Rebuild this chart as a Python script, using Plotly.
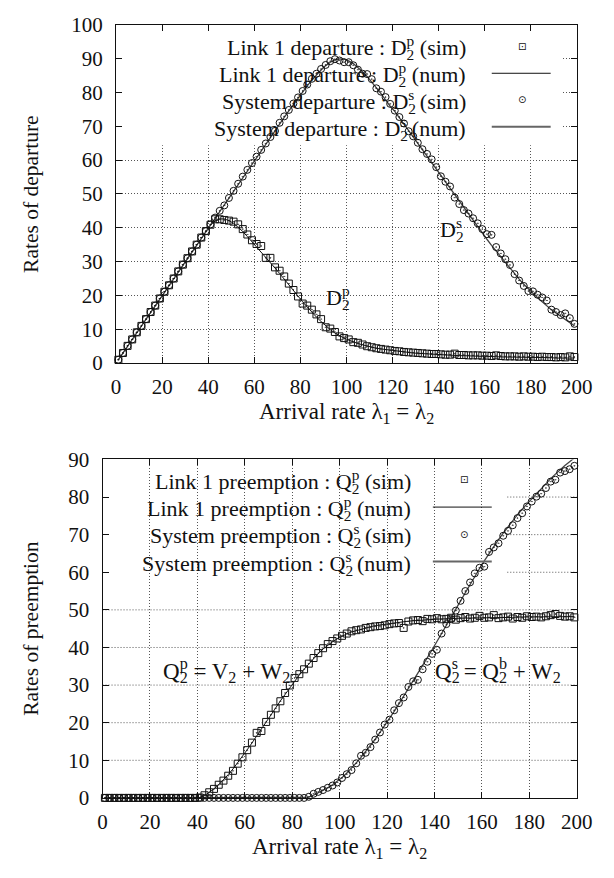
import plotly.graph_objects as go

# Arrival rate lambda_1 = lambda_2 at which both the simulation and the numerical model were evaluated
lam = [1, 3, 5, 7, 9, 11, 13, 15, 17, 19,
       21, 23, 25, 27, 29, 31, 33, 35, 37, 39,
       41, 43, 45, 47, 49, 51, 53, 55, 57, 59,
       61, 63, 65, 67, 69, 71, 73, 75, 77, 79,
       81, 83, 85, 87, 89, 91, 93, 95, 97, 99,
       101, 103, 105, 107, 109, 111, 113, 115, 117, 119,
       121, 123, 125, 127, 129, 131, 133, 135, 137, 139,
       141, 143, 145, 147, 149, 151, 153, 155, 157, 159,
       161, 163, 165, 167, 169, 171, 173, 175, 177, 179,
       181, 183, 185, 187, 189, 191, 193, 195, 197, 199]

# Link 1 departure rate D2^p
dp_sim = [1.0, 3.0, 5.1, 7.0, 9.1, 11.0, 13.0, 15.1, 17.0, 19.1,
          21.1, 23.0, 25.0, 27.1, 29.1, 31.0, 33.0, 35.0, 37.1, 39.0,
          40.9, 42.5, 42.5, 42.3, 42.1, 41.8, 41.0, 39.6, 38.0, 36.3,
          35.2, 34.6, 31.1, 31.1, 28.3, 27.3, 25.6, 23.5, 21.6, 19.7,
          17.6, 17.0, 15.8, 14.4, 13.0, 10.6, 10.2, 9.2, 7.9, 7.4,
          7.0, 6.2, 6.0, 5.5, 5.0, 4.7, 4.4, 4.2, 4.0, 3.8,
          3.6, 3.5, 3.3, 3.2, 3.1, 3.0, 2.9, 2.8, 2.7, 2.7,
          2.6, 2.5, 2.5, 2.8, 2.4, 2.4, 2.3, 2.3, 2.3, 2.2,
          2.2, 2.1, 2.3, 2.1, 2.0, 2.0, 2.0, 1.9, 2.0, 1.9,
          1.9, 1.8, 1.9, 1.8, 1.8, 1.7, 1.8, 1.7, 2.0, 1.8]
dp_num = [1.0, 3.0, 5.0, 7.0, 9.0, 11.0, 13.0, 15.0, 17.0, 19.0,
          21.0, 23.0, 25.0, 27.0, 29.0, 31.0, 33.0, 35.0, 37.0, 39.0,
          40.8, 42.0, 42.6, 42.6, 42.1, 41.3, 40.2, 38.9, 37.4, 35.9,
          34.4, 32.9, 31.3, 29.7, 28.1, 26.5, 24.9, 23.2, 21.5, 19.8,
          18.1, 16.5, 15.0, 13.6, 12.3, 11.0, 9.9, 8.9, 8.1, 7.4,
          6.8, 6.2, 5.8, 5.4, 5.0, 4.7, 4.4, 4.2, 4.0, 3.8,
          3.6, 3.4, 3.3, 3.1, 3.0, 2.9, 2.8, 2.7, 2.6, 2.5,
          2.5, 2.4, 2.3, 2.3, 2.2, 2.2, 2.1, 2.1, 2.0, 2.0,
          2.0, 1.9, 1.9, 1.9, 1.8, 1.8, 1.8, 1.7, 1.7, 1.7,
          1.7, 1.6, 1.6, 1.6, 1.6, 1.5, 1.5, 1.5, 1.5, 1.5]

# System departure rate D2^s
ds_sim = [1.0, 3.0, 5.1, 7.0, 9.1, 11.0, 13.0, 15.1, 17.0, 19.1,
          21.1, 23.0, 25.0, 27.1, 29.1, 31.0, 33.0, 35.0, 37.1, 39.0,
          41.0, 43.0, 45.0, 46.6, 48.8, 50.9, 53.0, 55.1, 57.1, 59.1,
          61.0, 63.0, 64.9, 66.8, 68.6, 71.0, 72.9, 74.8, 76.7, 78.5,
          80.4, 82.3, 84.0, 85.5, 86.9, 88.1, 89.2, 89.8, 89.4, 88.9,
          88.9, 88.0, 86.7, 85.5, 85.4, 83.9, 81.2, 80.2, 78.6, 76.6,
          74.6, 72.7, 70.8, 68.5, 67.0, 65.1, 63.2, 61.8, 60.2, 57.9,
          55.2, 53.6, 52.2, 48.9, 47.0, 45.2, 44.2, 42.8, 41.3, 39.6,
          38.1, 37.9, 34.3, 32.4, 30.7, 29.0, 26.3, 24.4, 22.8, 21.3,
          21.2, 20.2, 19.4, 18.5, 15.8, 15.1, 14.2, 14.7, 13.3, 11.6]
ds_num = [1.0, 3.0, 5.0, 7.0, 9.0, 11.0, 13.0, 15.0, 17.0, 19.0,
          21.0, 23.0, 25.0, 27.0, 29.0, 31.0, 33.0, 35.0, 37.0, 39.0,
          41.0, 43.0, 45.0, 47.0, 49.0, 51.0, 53.0, 55.0, 57.0, 59.0,
          61.0, 62.9, 64.8, 66.7, 68.7, 70.7, 72.6, 74.5, 76.4, 78.3,
          80.1, 81.9, 83.6, 85.2, 86.6, 87.9, 88.9, 89.6, 89.9, 89.8,
          89.3, 88.5, 87.4, 86.1, 84.7, 83.1, 81.4, 79.6, 77.8, 75.9,
          74.4, 72.5, 70.6, 68.6, 66.7, 64.8, 62.9, 61.0, 59.2, 57.3,
          55.4, 53.5, 51.6, 49.7, 47.7, 45.8, 43.9, 42.0, 40.2, 38.4,
          36.6, 34.8, 33.1, 31.4, 29.7, 28.0, 26.4, 24.8, 23.3, 21.9,
          20.6, 19.3, 18.1, 16.9, 15.8, 14.8, 13.8, 12.8, 11.9, 11.0]

# Link 1 preemption rate Q2^p
qp_sim = [0.0, 0.0, 0.0, 0.0, 0.0, 0.0, 0.0, 0.0, 0.0, 0.0,
          0.0, 0.0, 0.0, 0.0, 0.0, 0.0, 0.0, 0.0, 0.0, 0.0,
          0.1, 0.7, 1.5, 2.4, 3.5, 4.6, 5.9, 7.2, 9.1, 10.8,
          12.7, 14.7, 17.3, 17.8, 20.2, 22.1, 23.8, 25.7, 27.9, 29.9,
          31.9, 32.9, 34.2, 35.7, 37.2, 38.5, 39.8, 40.9, 41.7, 42.4,
          43.1, 43.7, 44.3, 44.6, 44.8, 45.2, 45.4, 45.6, 45.7, 45.9,
          46.2, 46.4, 46.5, 45.2, 46.9, 47.2, 47.3, 47.0, 47.6, 47.5,
          47.8, 47.5, 47.6, 47.9, 47.4, 47.8, 48.1, 47.7, 47.9, 48.4,
          47.9, 48.0, 48.6, 47.8, 48.0, 48.2, 47.7, 48.1, 47.9, 48.3,
          48.1, 48.2, 48.0, 48.3, 48.6, 48.9, 48.4, 48.2, 48.3, 48.0]
qp_num = [0.0, 0.0, 0.0, 0.0, 0.0, 0.0, 0.0, 0.0, 0.0, 0.0,
          0.0, 0.0, 0.0, 0.0, 0.0, 0.0, 0.0, 0.0, 0.0, 0.0,
          0.1, 0.6, 1.4, 2.4, 3.5, 4.8, 6.2, 7.7, 9.3, 11.0,
          12.8, 14.6, 16.4, 18.3, 20.1, 22.0, 23.9, 25.8, 27.6, 29.4,
          31.1, 32.7, 34.2, 35.7, 37.1, 38.4, 39.6, 40.6, 41.5, 42.3,
          43.0, 43.6, 44.1, 44.5, 44.9, 45.2, 45.5, 45.8, 46.0, 46.2,
          46.4, 46.6, 46.8, 46.9, 47.0, 47.1, 47.2, 47.3, 47.4, 47.5,
          47.5, 47.6, 47.6, 47.7, 47.7, 47.8, 47.8, 47.8, 47.9, 47.9,
          47.9, 47.9, 48.0, 48.0, 48.0, 48.0, 48.0, 48.1, 48.1, 48.1,
          48.1, 48.1, 48.1, 48.1, 48.1, 48.1, 48.1, 48.2, 48.2, 48.2]

# System preemption rate Q2^s
qs_sim = [0.0, 0.0, 0.0, 0.0, 0.0, 0.0, 0.0, 0.0, 0.0, 0.0,
          0.0, 0.0, 0.0, 0.0, 0.0, 0.0, 0.0, 0.0, 0.0, 0.0,
          0.0, 0.0, 0.0, 0.0, 0.0, 0.0, 0.0, 0.0, 0.0, 0.0,
          0.0, 0.0, 0.0, 0.0, 0.0, 0.0, 0.0, 0.0, 0.0, 0.0,
          0.0, 0.0, 0.0, 0.3, 1.1, 1.6, 2.1, 2.7, 3.3, 4.1,
          5.3, 6.3, 7.4, 9.2, 11.2, 12.0, 13.5, 15.5, 17.4, 19.5,
          20.8, 23.3, 25.2, 26.7, 29.5, 31.0, 31.4, 34.2, 36.2, 38.3,
          39.4, 43.7, 46.2, 47.5, 49.8, 52.4, 55.0, 57.3, 59.7, 61.2,
          61.5, 65.4, 66.6, 67.7, 69.7, 71.0, 72.5, 74.4, 75.7, 77.5,
          78.8, 80.1, 80.9, 82.4, 84.1, 84.6, 86.5, 86.9, 87.4, 88.3]
qs_num = [0.0, 0.0, 0.0, 0.0, 0.0, 0.0, 0.0, 0.0, 0.0, 0.0,
          0.0, 0.0, 0.0, 0.0, 0.0, 0.0, 0.0, 0.0, 0.0, 0.0,
          0.0, 0.0, 0.0, 0.0, 0.0, 0.0, 0.0, 0.0, 0.0, 0.0,
          0.0, 0.0, 0.0, 0.0, 0.0, 0.0, 0.0, 0.0, 0.0, 0.0,
          0.0, 0.0, 0.0, 0.2, 0.7, 1.3, 2.0, 2.7, 3.5, 4.4,
          5.4, 6.6, 7.9, 9.3, 10.8, 12.3, 13.9, 15.6, 17.4, 19.2,
          21.1, 23.0, 25.0, 27.0, 29.0, 31.0, 33.1, 35.2, 37.3, 39.4,
          41.5, 43.6, 45.8, 48.0, 50.2, 52.4, 54.6, 56.8, 58.9, 61.0,
          63.0, 65.0, 66.9, 68.7, 70.4, 72.1, 73.7, 75.3, 76.8, 78.2,
          79.6, 81.0, 82.3, 83.6, 84.9, 86.1, 87.3, 88.4, 89.4, 90.4]

x_ticks = [0, 20, 40, 60, 80, 100, 120, 140, 160, 180, 200]
top_y_ticks = [0, 10, 20, 30, 40, 50, 60, 70, 80, 90, 100]
bot_y_ticks = [0, 10, 20, 30, 40, 50, 60, 70, 80, 90]

W, H = 614, 878
FONT = "Liberation Serif"
FS = 22        # key text and curve labels
FS_TICK = 21   # tick numbers
FS_TITLE = 23  # axis titles
INK = "#111111"
GRID = "#555555"
GRID_DASH = "1px,2px"


def sub_sup(base, sub, sup):
    # subscript and superscript stacked over the same position
    return (f"{base}<sub><span style='letter-spacing:-0.5em'>{sub}</span></sub>"
            f"<sup>{sup}</sup>")


D2p = sub_sup("D", "2", "p")
D2s = sub_sup("D", "2", "s")
Q2p = sub_sup("Q", "2", "p")
Q2s = sub_sup("Q", "2", "s")
Q2b = sub_sup("Q", "2", "b")

fig = go.Figure()

mk_sq = dict(symbol="square-open-dot", size=7, color=INK, line=dict(width=1, color=INK))
mk_ci = dict(symbol="circle-open-dot", size=7, color=INK, line=dict(width=1, color=INK))

# upper panel: departures
fig.add_trace(go.Scatter(x=lam, y=dp_num, mode="lines", line=dict(color=INK, width=1),
                         xaxis="x", yaxis="y", showlegend=False))
fig.add_trace(go.Scatter(x=lam, y=ds_num, mode="lines", line=dict(color="#444444", width=1.3),
                         xaxis="x", yaxis="y", showlegend=False))
fig.add_trace(go.Scatter(x=lam, y=dp_sim, mode="markers", marker=mk_sq, cliponaxis=False,
                         xaxis="x", yaxis="y", showlegend=False))
fig.add_trace(go.Scatter(x=lam, y=ds_sim, mode="markers", marker=mk_ci, cliponaxis=False,
                         xaxis="x", yaxis="y", showlegend=False))

# lower panel: preemptions
fig.add_trace(go.Scatter(x=lam, y=qp_num, mode="lines", line=dict(color=INK, width=1),
                         xaxis="x2", yaxis="y2", showlegend=False))
fig.add_trace(go.Scatter(x=lam, y=qs_num, mode="lines", line=dict(color="#444444", width=1.3),
                         xaxis="x2", yaxis="y2", showlegend=False))
fig.add_trace(go.Scatter(x=lam, y=qp_sim, mode="markers", marker=mk_sq, cliponaxis=False,
                         xaxis="x2", yaxis="y2", showlegend=False))
fig.add_trace(go.Scatter(x=lam, y=qs_sim, mode="markers", marker=mk_ci, cliponaxis=False,
                         xaxis="x2", yaxis="y2", showlegend=False))

# panel geometry in pixels (left, right, top, bottom)
TOP = (115, 592, 13, 361)
BOT = (101, 592, 460, 808)


def dom_x(p):
    return [p[0] / W, p[1] / W]


def dom_y(p):
    return [(H - p[3]) / H, (H - p[2]) / H]


axis_common = dict(
    showline=True, linecolor=INK, linewidth=1, mirror="ticks",
    ticks="inside", ticklen=6, tickwidth=1, tickcolor=INK,
    tickfont=dict(family=FONT, size=FS_TICK, color=INK),
    gridcolor=GRID, gridwidth=1, griddash=GRID_DASH, zeroline=False,
)

fig.update_layout(
    width=W, height=H, margin=dict(l=0, r=0, t=0, b=0),
    paper_bgcolor="white", plot_bgcolor="white",
    font=dict(family=FONT, size=FS, color=INK),
    xaxis=dict(domain=dom_x(TOP), range=[0, 200], tickvals=x_ticks, anchor="y",
               showgrid=True, ticklabelstandoff=5, **axis_common),
    yaxis=dict(domain=dom_y(TOP), range=[0, 100], tickvals=top_y_ticks, anchor="x",
               showgrid=True, ticklabelstandoff=8, **axis_common),
    xaxis2=dict(domain=dom_x(BOT), range=[0, 200], tickvals=x_ticks, anchor="y2",
                showgrid=True, ticklabelstandoff=5, **axis_common),
    yaxis2=dict(domain=dom_y(BOT), range=[0, 90], tickvals=bot_y_ticks, anchor="x2",
                showgrid=False, ticklabelstandoff=8, **axis_common),
)

shapes = []
# key area of the upper panel hides the grid behind it
shapes.append(dict(type="rect", xref="x", yref="y", x0=0, x1=194, y0=64.4, y1=100,
                   fillcolor="white", line=dict(width=0), layer="between"))
# horizontal grid of the lower panel (shortened next to the key)
for v in bot_y_ticks[1:-1]:
    x0 = 170.7 if v >= 60 else 0
    shapes.append(dict(type="line", xref="x2", yref="y2", x0=x0, x1=200, y0=v, y1=v,
                       line=dict(color=GRID, width=1, dash=GRID_DASH), layer="below"))

annotations = []


def px_x(v):
    return v / W


def px_y(v):
    return (H - v) / H


def key(rows, text_right, mark_x, line_x0, line_x1):
    for label, kind, ypix in rows:
        annotations.append(dict(xref="paper", yref="paper", x=px_x(text_right), y=px_y(ypix),
                                xanchor="right", yanchor="middle", showarrow=False,
                                text=label, font=dict(family=FONT, size=FS, color=INK)))
        if kind in ("sq", "ci"):
            glyph = "\u22a1" if kind == "sq" else "\u2299"
            annotations.append(dict(xref="paper", yref="paper", x=px_x(mark_x), y=px_y(ypix),
                                    xanchor="center", yanchor="middle", showarrow=False,
                                    text=glyph, font=dict(family="DejaVu Sans", size=10, color=INK)))
        else:
            col, wid = (INK, 1) if kind == "ln" else ("#666666", 2)
            shapes.append(dict(type="line", xref="paper", yref="paper",
                               x0=px_x(line_x0), x1=px_x(line_x1), y0=px_y(ypix), y1=px_y(ypix),
                               line=dict(color=col, width=wid)))


key([(f"Link 1 departure : {D2p} (sim)", "sq", 35),
     (f"Link 1 departure : {D2p} (num)", "ln", 63),
     (f"System departure : {D2s} (sim)", "ci", 90),
     (f"System departure : {D2s} (num)", "ln2", 118)],
    479, 535, 504, 565)

key([(f"Link 1 preemption : {Q2p} (sim)", "sq", 481),
     (f"Link 1 preemption : {Q2p} (num)", "ln", 509),
     (f"System preemption : {Q2s} (sim)", "ci", 537),
     (f"System preemption : {Q2s} (num)", "ln2", 565)],
    422, 475, 443, 504)

# curve labels
annotations.append(dict(xref="x", yref="y", x=145.5, y=40, text=D2s, showarrow=False,
                        font=dict(family=FONT, size=FS, color=INK)))
annotations.append(dict(xref="x", yref="y", x=96.4, y=19.8, text=D2p, showarrow=False,
                        font=dict(family=FONT, size=FS, color=INK)))
annotations.append(dict(xref="x2", yref="y2", x=52.4, y=33.8, showarrow=False,
                        text=f"{Q2p} = V<sub>2</sub> + W<sub>2</sub>",
                        font=dict(family=FONT, size=FS + 1, color=INK)))
annotations.append(dict(xref="x2", yref="y2", x=166.6, y=33.8, showarrow=False,
                        text=f"{Q2s} = {Q2b} + W<sub>2</sub>",
                        font=dict(family=FONT, size=FS + 1, color=INK)))

# axis titles
xtitle = "Arrival rate \u03bb<sub>1</sub> = \u03bb<sub>2</sub>"
annotations.append(dict(xref="paper", yref="paper", x=px_x((TOP[0] + TOP[1]) / 2), y=px_y(412),
                        text=xtitle, showarrow=False, xanchor="center", yanchor="middle",
                        font=dict(family=FONT, size=FS_TITLE, color=INK)))
annotations.append(dict(xref="paper", yref="paper", x=px_x((BOT[0] + BOT[1]) / 2), y=px_y(859),
                        text=xtitle, showarrow=False, xanchor="center", yanchor="middle",
                        font=dict(family=FONT, size=FS_TITLE, color=INK)))
annotations.append(dict(xref="paper", yref="paper", x=px_x(27), y=px_y((TOP[2] + TOP[3]) / 2),
                        text="Rates of departure", showarrow=False, textangle=-90,
                        xanchor="center", yanchor="middle",
                        font=dict(family=FONT, size=21.5, color=INK)))
annotations.append(dict(xref="paper", yref="paper", x=px_x(27), y=px_y((BOT[2] + BOT[3]) / 2),
                        text="Rates of preemption", showarrow=False, textangle=-90,
                        xanchor="center", yanchor="middle",
                        font=dict(family=FONT, size=21.5, color=INK)))

fig.update_layout(shapes=shapes, annotations=annotations)

fig.write_html("out.html")
